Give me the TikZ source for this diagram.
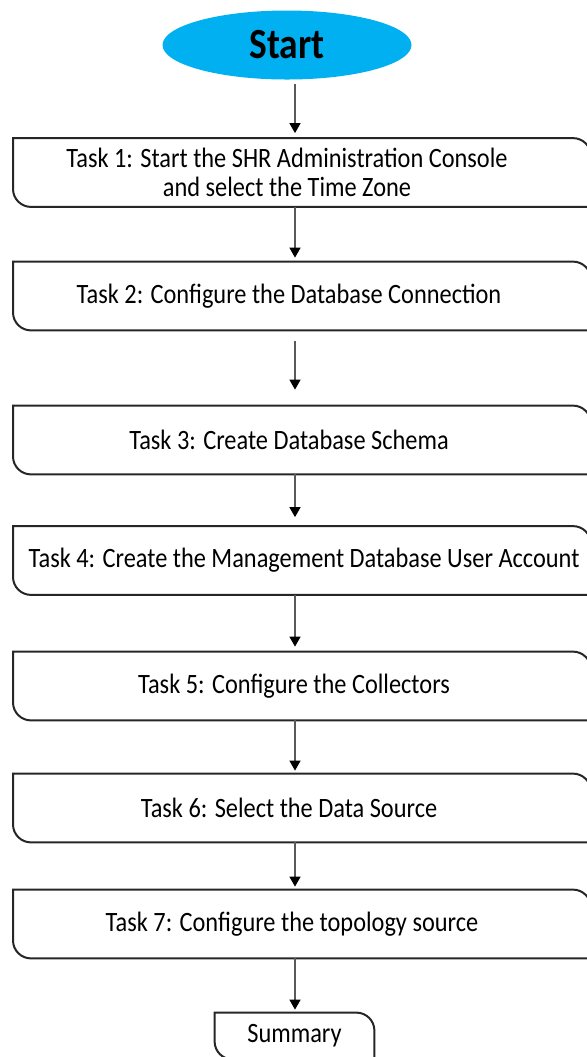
\documentclass[tikz,border=0pt]{standalone}
\usepackage{fontspec}
\setmainfont{Carlito}[FakeStretch=0.87]
\usetikzlibrary{shapes,arrows.meta,calc}
\definecolor{startblue}{HTML}{00B0F0}
\definecolor{flowgray}{HTML}{595959}
\tikzstyle{startnode}=[ellipse,fill=startblue,draw=none,minimum width=124.5pt,minimum height=34.5pt,inner sep=0pt,font=\fontsize{21.5}{22}\selectfont\bfseries]
\tikzstyle{taskbox}=[rectangle,draw=none,minimum height=34pt,inner sep=0pt,align=center,font=\fontsize{14}{14.5}\selectfont]
\tikzstyle{sumbox}=[rectangle,draw=none,minimum width=79.5pt,minimum height=23pt,inner sep=0pt,font=\fontsize{14}{14.5}\selectfont]
\tikzstyle{boxline}=[draw=black!85,line width=1pt]
\tikzstyle{flow}=[draw=flowgray,line width=0.75pt,-{Triangle[length=5pt,width=5.5pt,color=black]}]

\begin{document}
\begin{tikzpicture}[x=0.5pt,y=-0.5pt]
\clip (0,0) rectangle (587,1057);
\coordinate (spine) at (295,0);
\coordinate (left) at (13,0);
\coordinate (right) at (591,0);

%start
\node[startnode] (start) at (287,45) {Start};

%tasks
\foreach \pos/\name/\label in {{(287,172.5)/t1/{Task 1: Start the SHR Administration Console\\and select the Time Zone}},
    {(289,296)/t2/{Task 2: Configure the Database Connection}},
    {(289,440)/t3/{Task 3: Create Database Schema}},
    {(304,560.5)/t4/{Task 4: Create the Management Database User Account}},
    {(294,686)/t5/{Task 5: Configure the Collectors}},
    {(289,808)/t6/{Task 6: Select the Data Source}},
    {(292,924)/t7/{Task 7: Configure the topology source}}}
    \node[taskbox] (\name) at \pos {\label};
\node[sumbox] (sum) at (294.5,1036) {Summary};

%outlines
\foreach \name in {t1,t2,t3,t4,t5,t6,t7}
    \draw[boxline] (\name.north -| left) -- ([xshift=-9pt]\name.north -| right) arc[start angle=90,end angle=0,radius=9pt]
        -- (\name.south -| right) -- ([xshift=9pt]\name.south -| left) arc[start angle=270,end angle=180,radius=9pt] -- cycle;
\draw[boxline] (sum.north west) -- ([xshift=-9pt]sum.north east) arc[start angle=90,end angle=0,radius=9pt]
    -- (sum.south east) -- ([xshift=9pt]sum.south west) arc[start angle=270,end angle=180,radius=9pt] -- cycle;

%arrows
\foreach \source/\dest/\ga/\gb in {start/t1/2pt/2.5pt, t1/t2/0pt/2pt, t2/t3/5.5pt/8pt, t3/t4/0pt/4.5pt,
    t4/t5/0pt/2.5pt, t5/t6/0pt/1.5pt, t6/t7/0pt/1.5pt, t7/sum/0pt/1.5pt}
    \draw[flow, shorten <=\ga, shorten >=\gb] (\source.south -| spine) -- (\dest.north -| spine);
\end{tikzpicture}
\end{document}
